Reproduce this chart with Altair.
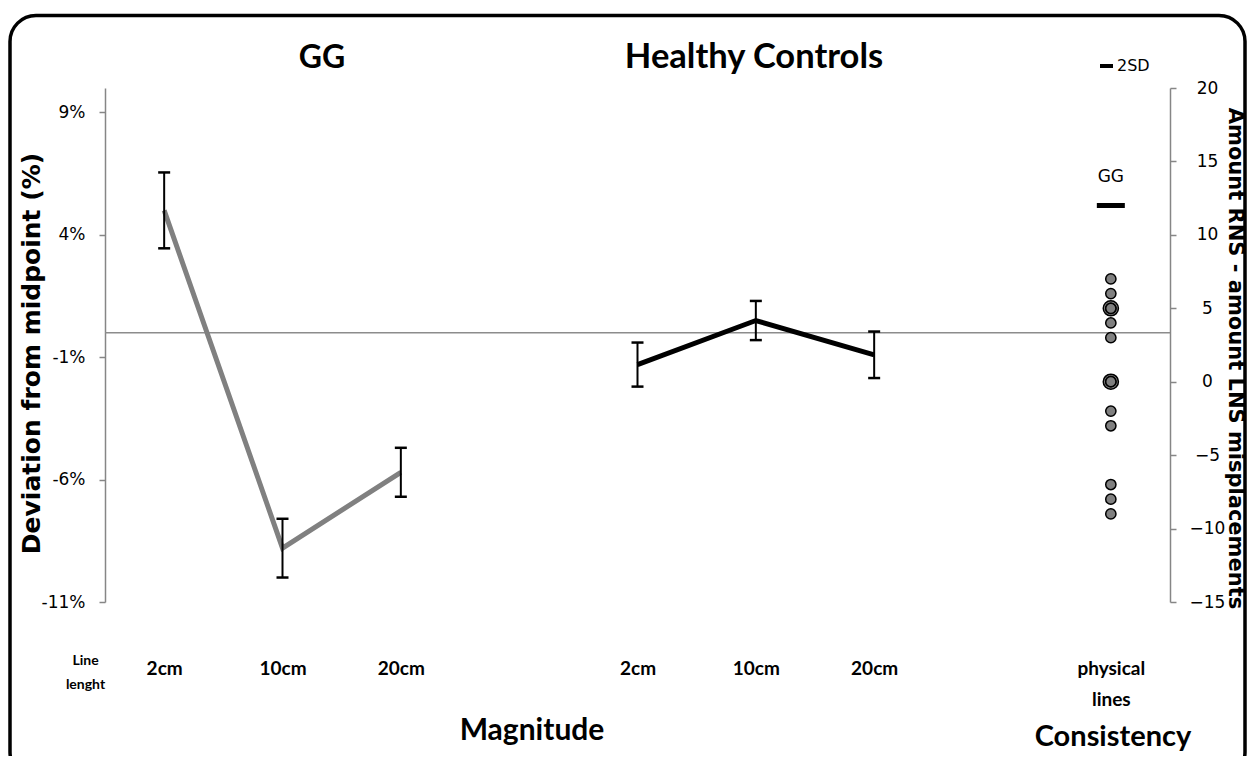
import altair as alt
import pandas as pd

# ---------------- data ----------------
categories = ["G_2cm", "G_10cm", "G_20cm", "X1", "H_2cm", "H_10cm", "H_20cm", "X2", "C_physical lines"]
lengths = ["2cm", "10cm", "20cm"]
gg_mean = [5.0, -8.8, -5.7]
gg_err = [1.55, 1.2, 1.0]
hc_mean = [-1.3, 0.5, -0.9]
hc_err = [0.9, 0.8, 0.95]
physical_lines = [7, 6, 5, 5, 4, 3, 0, 0, -2, -3, -7, -8, -9]
gg_consistency = [12]
left_ticks = [-11, -6, -1, 4, 9]
right_ticks = [-15, -10, -5, 0, 5, 10, 15, 20]

rows = []
for i, l in enumerate(lengths):
    rows.append({"cat": "G_" + l, "grp": "GG", "v": gg_mean[i], "lo": gg_mean[i] - gg_err[i], "hi": gg_mean[i] + gg_err[i]})
for i, l in enumerate(lengths):
    rows.append({"cat": "H_" + l, "grp": "HC", "v": hc_mean[i], "lo": hc_mean[i] - hc_err[i], "hi": hc_mean[i] + hc_err[i]})
mag = pd.DataFrame(rows)
phys = pd.DataFrame({"cat": ["C_physical lines"] * len(physical_lines), "n": physical_lines})
ggc = pd.DataFrame({"cat": ["C_physical lines"], "n": gg_consistency, "lab": ["GG"]})

FONT = "Lato"
TFONT = "DejaVu Sans"
GRAY = "#868686"

x_axis = alt.Axis(
    domain=False, ticks=False, grid=False, labelAngle=0,
    labelFont=FONT, labelFontWeight="bold", labelFontSize=19, labelColor="black",
    labelPadding=57, labelBaseline="top", labelLineHeight=31, labelOverlap=False,
    labelExpr="datum.value == 'C_physical lines' ? ['physical', 'lines'] : substring(datum.value, 2)",
    title=["Line", "lenght"], titleX=-20, titleY=51, titleFont=FONT, titleFontWeight="bold",
    titleFontSize=14, titleLineHeight=24, titleBaseline="top", titleAlign="center", titleColor="black",
)
X = alt.X("cat:N", scale=alt.Scale(type="point", domain=categories, padding=0.5), axis=x_axis)

left_axis = alt.Axis(
    values=left_ticks, labelExpr="datum.value + '%'", grid=False,
    domainColor=GRAY, domainWidth=1.5, tickColor=GRAY, tickWidth=1.5, tickSize=6,
    labelFont="DejaVu Sans", labelFontSize=17, labelColor="black", labelPadding=14,
    title="Deviation from midpoint (%)", titleFont=TFONT, titleFontWeight="bold", titleFontSize=25,
    titleColor="black", titleAngle=270, titleX=-74, titleY=265, titleBaseline="middle", titleAlign="center",
)
left_scale = alt.Scale(domain=[-11, 10], nice=False, zero=False)


def YL(field):
    return alt.Y(field, type="quantitative", scale=left_scale, axis=left_axis)


right_axis = alt.Axis(
    orient="right", values=right_ticks, grid=False,
    domainColor=GRAY, domainWidth=1.5, tickColor=GRAY, tickWidth=1.5, tickSize=6,
    labelFont="DejaVu Sans", labelFontSize=17, labelColor="black", labelPadding=31, labelAlign="center",
    title="Amount RNS - amount LNS misplacements", titleFont=TFONT, titleFontWeight="bold", titleFontSize=21,
    titleColor="black", titleAngle=90, titleX=64, titleY=270, titleBaseline="middle", titleAlign="center",
)
right_scale = alt.Scale(domain=[-15, 20], nice=False, zero=False)


def YR(field):
    return alt.Y(field, type="quantitative", scale=right_scale, axis=right_axis)


base = alt.Chart(mag)
zero_line = alt.Chart(pd.DataFrame({"z": [0]})).mark_rule(color="#8c8c8c", strokeWidth=1.5).encode(y=YL("z"))
gg_line = base.transform_filter("datum.grp == 'GG'").mark_line(color="#808080", strokeWidth=5).encode(x=X, y=YL("v"))
hc_line = base.transform_filter("datum.grp == 'HC'").mark_line(color="black", strokeWidth=5).encode(x=X, y=YL("v"))
err = base.mark_rule(color="black", strokeWidth=2).encode(x=X, y=YL("lo"), y2="hi")
cap_lo = base.mark_tick(color="black", thickness=2.5, size=12, opacity=1).encode(x=X, y=YL("lo"))
cap_hi = base.mark_tick(color="black", thickness=2.5, size=12, opacity=1).encode(x=X, y=YL("hi"))
left = alt.layer(zero_line, gg_line, hc_line, err, cap_lo, cap_hi)

pbase = alt.Chart(phys)
rings = pbase.transform_aggregate(cnt="count()", groupby=["cat", "n"]).transform_filter("datum.cnt > 1").mark_circle(
    size=230, color="#808080", stroke="black", strokeWidth=1.5, opacity=1).encode(x=X, y=YR("n"))
dots = pbase.mark_circle(size=105, color="#808080", stroke="black", strokeWidth=1.5, opacity=1).encode(x=X, y=YR("n"))
gbar = alt.Chart(ggc).mark_tick(color="black", thickness=5, size=28, opacity=1).encode(x=X, y=YR("n"))
glab = alt.Chart(ggc).mark_text(font="DejaVu Sans", fontSize=17, dy=-28, color="black").encode(x=X, y=YR("n"), text="lab:N")
right = alt.layer(rings, dots, gbar, glab)

one = alt.Data(values=[{}])
txt = dict(font=FONT, fontWeight="bold", color="black", baseline="middle", align="center")
t_gg = alt.Chart(one).mark_text(fontSize=32, **txt).encode(x=alt.value(217), y=alt.value(-30), text=alt.value("GG"))
t_hc = alt.Chart(one).mark_text(fontSize=34.5, **txt).encode(x=alt.value(649), y=alt.value(-30), text=alt.value("Healthy Controls"))
t_mag = alt.Chart(one).mark_text(fontSize=30, **txt).encode(x=alt.value(427), y=alt.value(643), text=alt.value("Magnitude"))
t_con = alt.Chart(one).mark_text(fontSize=29, **txt).encode(x=alt.value(1008), y=alt.value(649), text=alt.value("Consistency"))
leg_line = alt.Chart(one).mark_rule(color="black", strokeWidth=4).encode(x=alt.value(995), x2=alt.value(1008), y=alt.value(-22))
leg_txt = alt.Chart(one).mark_text(font="DejaVu Sans", fontSize=16, align="left", baseline="middle", color="black").encode(
    x=alt.value(1012), y=alt.value(-22), text=alt.value("2SD"))
border = alt.Chart(one).mark_rect(fill="transparent", stroke="black", strokeWidth=3.5, cornerRadius=26).encode(
    x=alt.value(-95), x2=alt.value(1140), y=alt.value(-72.5), y2=alt.value(690))

chart = alt.layer(left, right, t_gg, t_hc, t_mag, t_con, leg_line, leg_txt, border).resolve_scale(y="independent").properties(
    width=1065, height=514,
    autosize=alt.AutoSizeParams(type="none"),
    padding={"left": 97, "top": 80, "right": 77, "bottom": 154},
    background="white",
).configure_view(stroke=None)

chart.save("out.html", embed_options={"renderer": "svg", "actions": False})
